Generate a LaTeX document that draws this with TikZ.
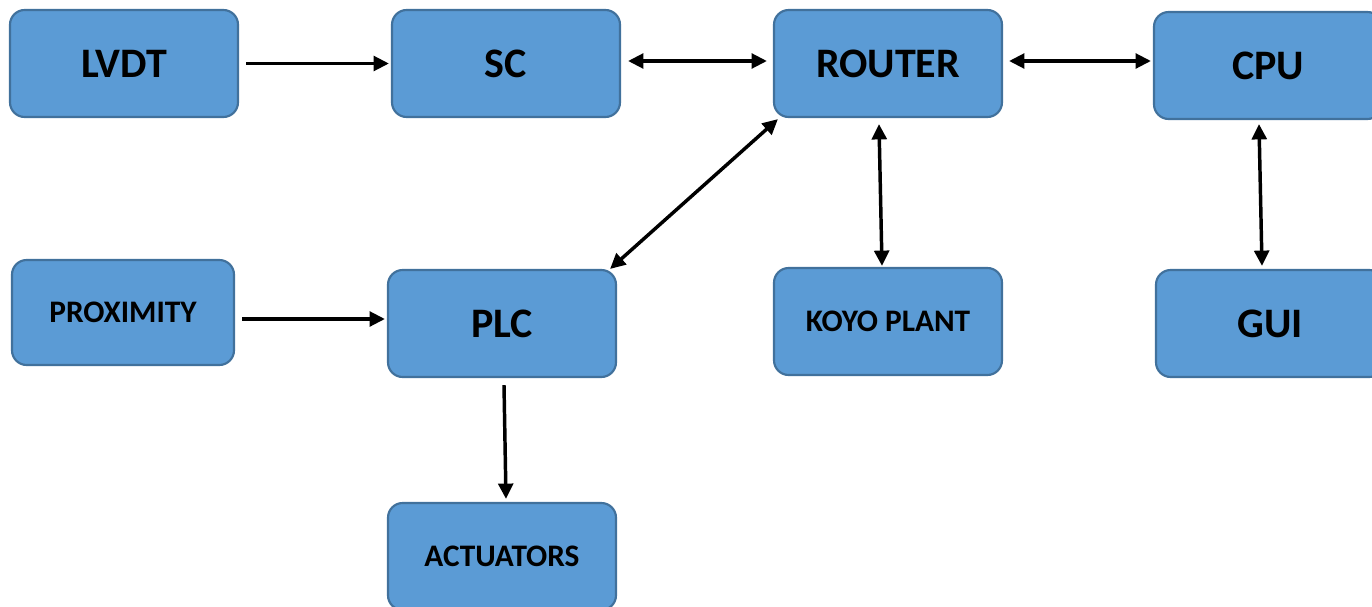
\documentclass[tikz,border=0pt]{standalone}
\usepackage{fontspec}
\setmainfont{Carlito}
\usetikzlibrary{arrows.meta,calc}
\definecolor{boxfill}{HTML}{5B9BD5}
\definecolor{boxline}{HTML}{41719C}
\tikzset{
  box/.style={draw=boxline, fill=boxfill, line width=1.6pt, rounded corners=11pt,
    minimum width=171pt, minimum height=80.25pt, inner sep=0pt,
    font=\fontsize{31.5}{36}\selectfont\bfseries, text=black},
  smallbox/.style={box, font=\fontsize{23.5}{27}\selectfont\bfseries},
  arr/.style={line width=2.6pt, -{Triangle[length=11.5pt,width=11pt]}},
  darr/.style={line width=2.6pt, {Triangle[length=11.5pt,width=11pt]}-{Triangle[length=11.5pt,width=11pt]}}
}
\begin{document}
\begin{tikzpicture}[x=0.75pt,y=-0.75pt]
\useasboundingbox (0,0) rectangle (1372,607);
\begin{scope}
\clip (0,0) rectangle (1372,607);
\node[box] (lvdt) at (124,63.5) {LVDT};
\node[box] (sc) at (506,63.5) {SC};
\node[box] (router) at (888,63.5) {ROUTER};
\node[box] (cpu) at (1268,65.5) {CPU};
\node[smallbox, minimum width=166.5pt, minimum height=78.75pt] (prox) at (123,312.5) {PROXIMITY};
\node[box] (plc) at (502,323.5) {PLC};
\node[smallbox] (koyo) at (888,321.5) {KOYO PLANT};
\node[box] (gui) at (1270,323.5) {GUI};
\node[smallbox] (act) at (502,556.5) {ACTUATORS};
\end{scope}
\draw[arr] ($(lvdt.east)+(7,0)$) -- ($(sc.west)+(-2,0)$);
\draw[darr] ($(sc.east)+(7,-2.5)$) -- ($(router.west)+(-6,-2.5)$);
\draw[darr] ($(router.east)+(6,-2.5)$) -- ($(cpu.west)+(-2,-4.5)$);
\draw[darr] ($(router.south west)+(5,1)$) -- ($(plc.north east)+(-7,0)$);
\draw[darr] ($(router.south)+(-9,6)$) -- ($(koyo.north)+(-6,-1)$);
\draw[darr] ($(cpu.south)+(-9,4)$) -- ($(gui.north)+(-8,-3)$);
\draw[arr] ($(prox.east)+(7,6.5)$) -- ($(plc.west)+(-2,-4.5)$);
\draw[arr] ($(plc.south)+(2,7)$) -- ($(act.north)+(4,-3)$);
\end{tikzpicture}
\end{document}
